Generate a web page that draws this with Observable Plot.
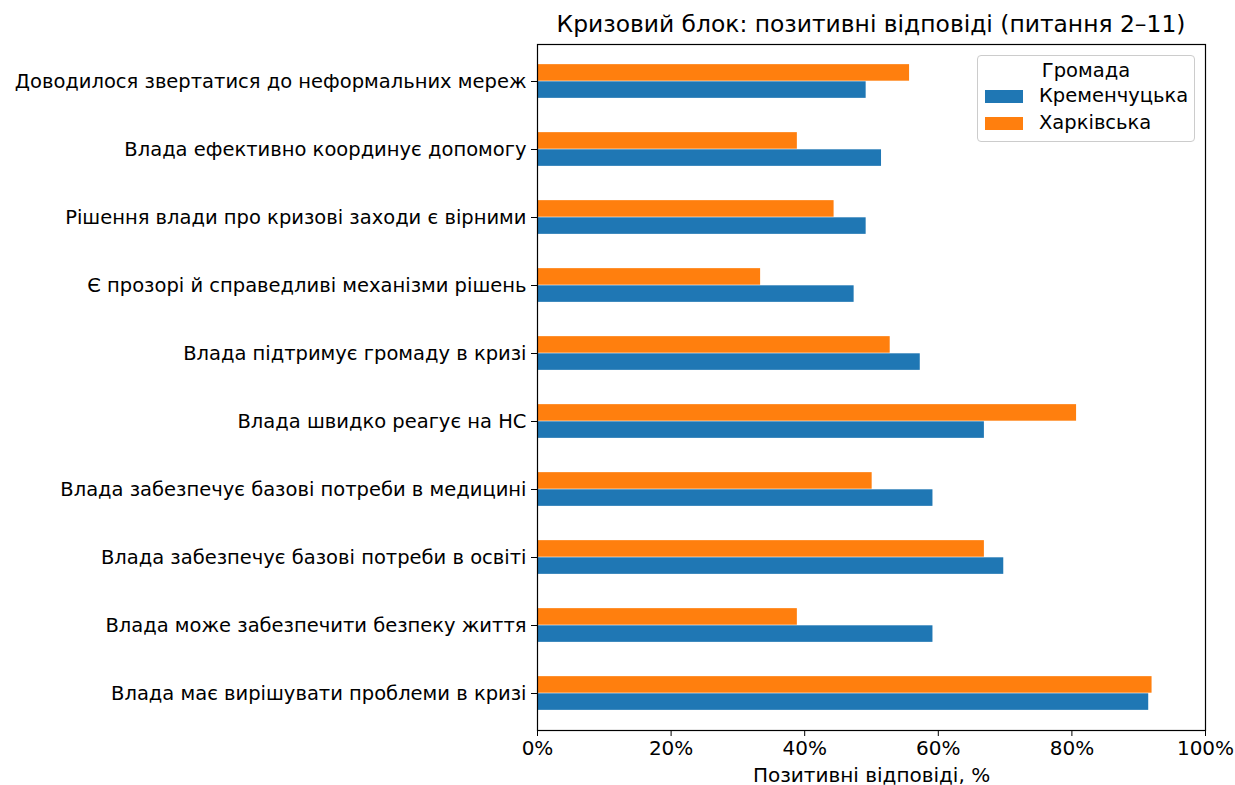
<!DOCTYPE html>
<html>
<head>
<meta charset="utf-8">
<script src="https://cdn.jsdelivr.net/npm/d3@7"></script>
<script src="https://cdn.jsdelivr.net/npm/@observablehq/plot@0.6"></script>
<style>
  html, body { margin: 0; padding: 0; background: #fff; }
  #wrap { position: relative; width: 1235px; height: 785px; font-family: "DejaVu Sans", sans-serif; }
  #title { position: absolute; top: 10px; left: 537px; width: 668px; text-align: center; font-size: 23.4px; line-height: 28px; color: #000; white-space: nowrap; }
  #chart { position: absolute; top: 44px; left: 0; }
  #legend { position: absolute; left: 977px; top: 55px; width: 218px; height: 87px; border: 1px solid #ccc; border-radius: 4px; background: rgba(255,255,255,0.8); box-sizing: border-box; font-size: 19.5px; color: #000; }
  #legend .lt { position: absolute; top: 3px; left: 0; width: 100%; text-align: center; line-height: 24px; }
  #legend .sw { position: absolute; left: 7px; width: 38px; height: 13px; }
  #legend .lb { position: absolute; left: 61px; line-height: 24px; }
</style>
</head>
<body>
<div id="wrap">
  <div id="title">Кризовий блок: позитивні відповіді (питання 2–11)</div>
  <div id="chart"></div>
  <div id="legend"></div>
</div>
<script>
const categories = [
  "Доводилося звертатися до неформальних мереж",
  "Влада ефективно координує допомогу",
  "Рішення влади про кризові заходи є вірними",
  "Є прозорі й справедливі механізми рішень",
  "Влада підтримує громаду в кризі",
  "Влада швидко реагує на НС",
  "Влада забезпечує базові потреби в медицині",
  "Влада забезпечує базові потреби в освіті",
  "Влада може забезпечити безпеку життя",
  "Влада має вирішувати проблеми в кризі"
];
const groups = ["Кременчуцька", "Харківська"];
const colors = ["#1f77b4", "#ff7f0e"];
const kremenchuk = [49.2, 51.5, 49.2, 47.4, 57.3, 66.9, 59.2, 69.8, 59.2, 91.5];
const kharkiv    = [55.7, 38.9, 44.4, 33.4, 52.8, 80.7, 50.1, 66.9, 38.9, 92.0];
const xTicks = [0, 20, 40, 60, 80, 100];

const rowsK = categories.map((c, i) => ({category: c, group: groups[0], value: kremenchuk[i]}));
const rowsH = categories.map((c, i) => ({category: c, group: groups[1], value: kharkiv[i]}));

const W = 1235, H = 741, mTop = 0, mBottom = 55, mLeft = 537, mRight = 30;
const step = (H - mTop - mBottom) / categories.length;
const barH = step / 4;

const chart = Plot.plot({
  width: W, height: H,
  marginTop: mTop, marginBottom: mBottom, marginLeft: mLeft, marginRight: mRight,
  style: {fontFamily: "DejaVu Sans, sans-serif", fontSize: "19.5px", color: "#000", background: "#fff", overflow: "visible"},
  x: {domain: [0, 100]},
  y: {type: "band", domain: categories, padding: 0},
  color: {domain: groups, range: colors},
  marks: [
    Plot.barX(rowsH, {y: "category", x: "value", fill: colors[1], insetTop: step/2 - barH, insetBottom: step/2}),
    Plot.barX(rowsK, {y: "category", x: "value", fill: colors[0], insetTop: step/2, insetBottom: step/2 - barH}),
    Plot.axisX({ticks: xTicks, tickFormat: d => d + "%", tickSize: 6, tickPadding: 4, stroke: "#000", fontSize: "20px",
      label: "Позитивні відповіді, %", labelAnchor: "center", labelArrow: "none", labelOffset: 51}),
    Plot.axisY({tickSize: 6, tickPadding: 5, label: null, stroke: "#000"}),
    Plot.frame({stroke: "#000", strokeWidth: 1.2})
  ]
});
document.getElementById("chart").appendChild(chart);

const lg = document.getElementById("legend");
lg.innerHTML = '<div class="lt">Громада</div>' +
  groups.map((g, i) =>
    `<div class="sw" style="top:${34 + i*27}px;background:${colors[i]}"></div>` +
    `<div class="lb" style="top:${28 + i*27}px">${g}</div>`).join("");
</script>
</body>
</html>
